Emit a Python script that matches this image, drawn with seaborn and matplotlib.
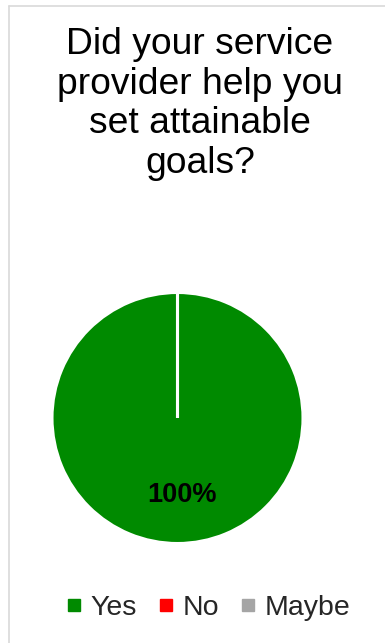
import matplotlib
matplotlib.use("Agg")
import matplotlib.pyplot as plt
import matplotlib.transforms as mtransforms
from matplotlib.lines import Line2D
import seaborn as sns

# Survey answers
categories = ["Yes", "No", "Maybe"]
shares = [100, 0, 0]
colors = ["#008A00", "#FF0000", "#A5A5A5"]
title = "Did your service\nprovider help you\nset attainable\ngoals?"

sns.set_theme(style="white")
plt.rcParams["font.family"] = ["Liberation Sans", "DejaVu Sans"]

W, H = 385, 643
fig = plt.figure(figsize=(W / 100, H / 100), dpi=100)
fig.patch.set_facecolor("white")

# Chart-area border (top and left edges)
border = "#D9D9D9"
fig.add_artist(Line2D([8.5 / W, 1.0], [1 - 5.5 / H, 1 - 5.5 / H],
                      transform=fig.transFigure, color=border, lw=1.2))
fig.add_artist(Line2D([8.5 / W, 8.5 / W], [0.0, 1 - 5.5 / H],
                      transform=fig.transFigure, color=border, lw=1.2))

# Pie axes
cx, cy, r = 177.5, 418.0, 125.5
half = 1.25 * r
ax = fig.add_axes([(cx - half) / W, (H - cy - half) / H, 2 * half / W, 2 * half / H])


def fmt_pct(p):
    return f"{p:.0f}%" if p > 0 else ""


wedges, _, autotexts = ax.pie(
    shares,
    colors=colors,
    startangle=90,
    counterclock=False,
    autopct=fmt_pct,
    pctdistance=0.6,
    labeldistance=None,
    wedgeprops=dict(edgecolor="white", linewidth=2.2),
    textprops=dict(fontsize=19.5, fontweight="bold", color="black"),
)
ax.set_aspect("equal")
for t in autotexts:
    t.set_transform(mtransforms.offset_copy(t.get_transform(), fig=fig, x=5, y=-2, units="dots"))

fig.text(200 / W, 1 - 27 / H, title, ha="center", va="top",
         fontsize=26.8, color="black", linespacing=1.17)

handles = [Line2D([], [], marker="s", linestyle="none", markersize=8,
                  markerfacecolor=c, markeredgecolor=c) for c in colors]
fig.legend(handles, categories, loc="center", bbox_to_anchor=(208 / W, 1 - 608 / H),
           ncol=3, frameon=False, fontsize=20.5, handlelength=0.6,
           handletextpad=0.3, columnspacing=0.7, borderpad=0)

fig.savefig("out.png", dpi=100, facecolor="white")
